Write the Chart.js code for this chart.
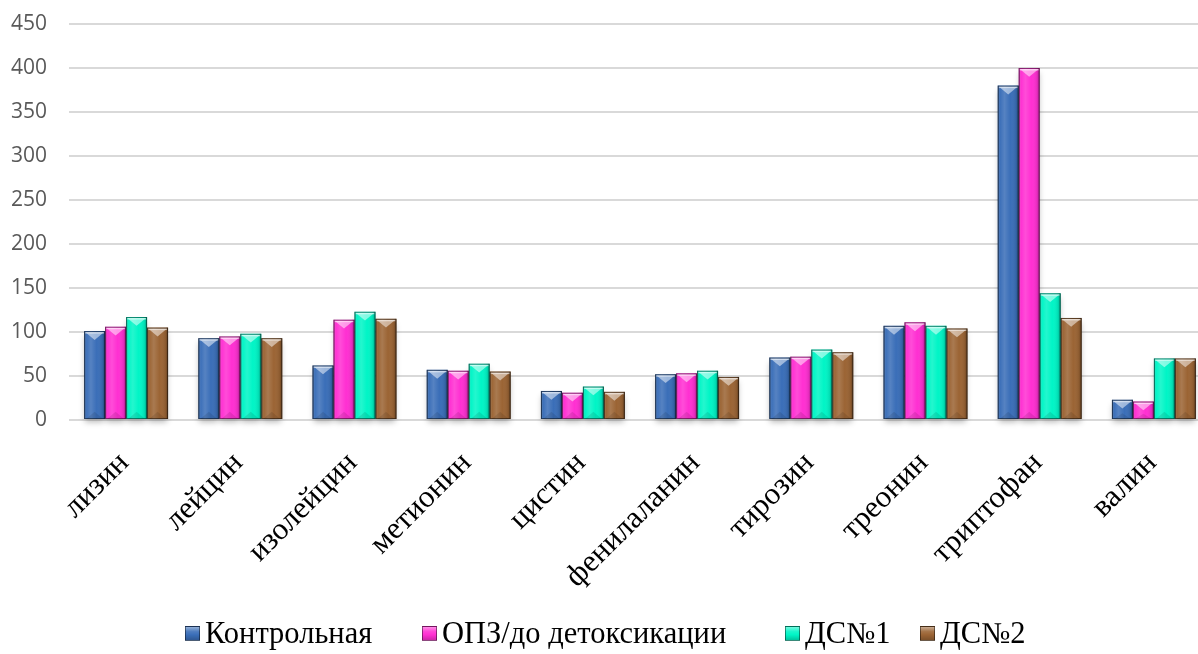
<!DOCTYPE html>
<html lang="ru">
<head>
<meta charset="utf-8">
<script src="https://cdn.jsdelivr.net/npm/chart.js@4/dist/chart.umd.min.js"></script>
<style>
  html, body { margin: 0; padding: 0; background: #fff; }
  #wrap { position: relative; width: 1198px; height: 654px; overflow: hidden; }
  #box { position: absolute; left: 0; top: 0; width: 1211px; height: 654px; }
  #legend {
    position: absolute; left: 0; width: 1198px; top: 614px; height: 38px;
    font-family: "Liberation Serif", "Times New Roman", serif; font-size: 30.5px; color: #000;
  }
  .item { position: absolute; top: 0; height: 38px; display: flex; align-items: center; white-space: nowrap; }
  .mark { width: 15px; height: 15px; margin-right: 5px; box-sizing: border-box;
          border: 1px solid rgba(0,0,0,0.45); position: relative; }
</style>
</head>
<body>
<div id="wrap">
  <div id="box"><canvas id="c"></canvas></div>
  <div id="legend"></div>
</div>
<script>
// Amino acids along the category axis
const categories = ['лизин', 'лейцин', 'изолейцин', 'метионин', 'цистин',
                    'фенилаланин', 'тирозин', 'треонин', 'триптофан', 'валин'];

// Series names
const seriesNames = ['Контрольная', 'ОПЗ/до детоксикации', 'ДС№1', 'ДС№2'];

// Values per series, one per amino acid
const control = [101, 93, 62, 57, 33, 52, 71, 107, 380, 23];
const beforeDetox = [106, 95, 114, 56, 31, 53, 72, 111, 400, 21];
const ds1 = [117, 98, 123, 64, 38, 56, 80, 107, 144, 70];
const ds2 = [105, 93, 115, 55, 32, 49, 77, 104, 116, 70];

// Value axis ticks
const yTicks = [0, 50, 100, 150, 200, 250, 300, 350, 400, 450];

const colors = ['#3a6eb8', '#ff2fd2', '#00f5c6', '#9b6434'];
const seriesValues = [control, beforeDetox, ds1, ds2];

// Bevelled "3D" look for each bar, drawn over the plain fill
const bevelPlugin = {
  id: 'bevel',
  beforeDatasetsDraw(chart) {
    const ctx = chart.ctx;
    ctx.save();
    chart.data.datasets.forEach((ds, i) => {
      chart.getDatasetMeta(i).data.forEach(bar => {
        const w = bar.width, left = bar.x - w / 2, top = bar.y, h = bar.base - bar.y;
        ctx.shadowColor = 'rgba(0,0,0,0.28)';
        ctx.shadowBlur = 6;
        ctx.shadowOffsetY = 3;
        ctx.fillStyle = '#fff';
        ctx.fillRect(left + 1, top + 2, w - 2, h - 2);
      });
    });
    ctx.restore();
  },
  afterDatasetsDraw(chart) {
    const ctx = chart.ctx;
    ctx.save();
    chart.data.datasets.forEach((ds, i) => {
      chart.getDatasetMeta(i).data.forEach(bar => {
        const w = bar.width, left = bar.x - w / 2, right = left + w;
        const top = bar.y, base = bar.base, h = base - top;
        // side shading
        const g = ctx.createLinearGradient(left, 0, right, 0);
        g.addColorStop(0, 'rgba(0,0,0,0.32)');
        g.addColorStop(0.12, 'rgba(255,255,255,0.02)');
        g.addColorStop(0.32, 'rgba(255,255,255,0.14)');
        g.addColorStop(0.6, 'rgba(255,255,255,0.0)');
        g.addColorStop(0.88, 'rgba(0,0,0,0.10)');
        g.addColorStop(1, 'rgba(0,0,0,0.40)');
        ctx.fillStyle = g;
        ctx.fillRect(left, top, w, h);
        // top bevel
        const bh = Math.min(w * 0.42, h * 0.5);
        ctx.beginPath();
        ctx.moveTo(left + 1, top + 1);
        ctx.lineTo(right - 1, top + 1);
        ctx.lineTo(bar.x, top + bh);
        ctx.closePath();
        ctx.fillStyle = 'rgba(255,255,255,0.5)';
        ctx.fill();
        ctx.fillStyle = 'rgba(255,255,255,0.5)';
        ctx.fillRect(left + 1, top + 1, w - 2, 1.5);
        // bottom bevel
        ctx.beginPath();
        ctx.moveTo(left + 2, base);
        ctx.lineTo(right - 2, base);
        ctx.lineTo(bar.x, base - Math.min(w * 0.35, h * 0.3));
        ctx.closePath();
        ctx.fillStyle = 'rgba(0,0,0,0.10)';
        ctx.fill();
        // outline
        ctx.strokeStyle = 'rgba(0,0,0,0.45)';
        ctx.lineWidth = 1;
        ctx.strokeRect(left + 0.5, top + 0.5, w - 1, h - 1);
      });
    });
    ctx.restore();
  }
};

new Chart(document.getElementById('c'), {
  type: 'bar',
  data: {
    labels: categories,
    datasets: seriesNames.map((name, i) => ({
      label: name,
      data: seriesValues[i],
      backgroundColor: colors[i],
      borderWidth: 0,
      categoryPercentage: 0.735,
      barPercentage: 1.0
    }))
  },
  options: {
    responsive: true,
    maintainAspectRatio: false,
    animation: false,
    layout: { padding: { top: 24, right: 0, bottom: 0, left: 0 } },
    plugins: { legend: { display: false }, tooltip: { enabled: false } },
    scales: {
      x: {
        grid: { display: false, drawTicks: false },
        border: { display: false },
        ticks: {
          autoSkip: false,
          minRotation: 45, maxRotation: 45,
          padding: 25,
          labelOffset: -2,
          color: '#000',
          font: { family: '"Liberation Serif", "Times New Roman", serif', size: 31 }
        },
        afterFit(scale) { scale.height = 234; }
      },
      y: {
        min: 0, max: 450,
        afterBuildTicks(scale) { scale.ticks = yTicks.map(v => ({ value: v })); },
        grid: { color: '#d9d9d9', lineWidth: 2, drawTicks: true, tickLength: 22, tickColor: 'rgba(0,0,0,0)' },
        border: { display: false },
        ticks: {
          padding: 0,
          color: '#595959',
          font: { family: '"Open Sans", sans-serif', size: 21 }
        },
        afterFit(scale) { scale.width = 69; }
      }
    }
  },
  plugins: [bevelPlugin]
});

// Legend row: marker + series name, one slot per series
const legendX = [185, 422, 785, 920];
const legend = document.getElementById('legend');
seriesNames.forEach((name, i) => {
  const item = document.createElement('div');
  item.className = 'item';
  item.style.left = legendX[i] + 'px';
  const m = document.createElement('span');
  m.className = 'mark';
  m.style.background = `linear-gradient(180deg, rgba(255,255,255,0.45) 0%, rgba(255,255,255,0.1) 35%, rgba(0,0,0,0) 60%, rgba(0,0,0,0.2) 100%), ${colors[i]}`;
  const t = document.createElement('span');
  t.textContent = name;
  item.appendChild(m);
  item.appendChild(t);
  legend.appendChild(item);
});
</script>
</body>
</html>
